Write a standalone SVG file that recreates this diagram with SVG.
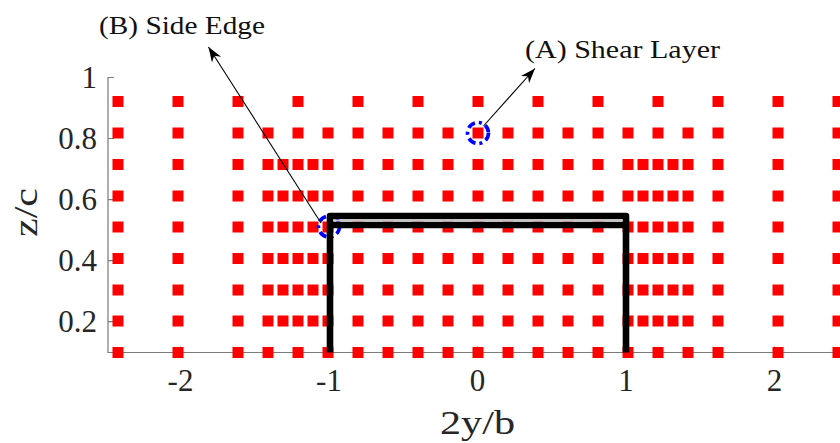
<svg xmlns="http://www.w3.org/2000/svg" xmlns:xlink="http://www.w3.org/1999/xlink" width="840" height="443" viewBox="0 0 840 443">
<style>
.tick{font-family:"Liberation Serif","Times New Roman",serif;font-size:31px;fill:#262626}
.lab{font-family:"Liberation Serif","Times New Roman",serif;font-size:33px;fill:#262626}
.ann{font-family:"Liberation Serif","Times New Roman",serif;font-size:26px;fill:#111}
.ax{stroke:#7a7a7a;stroke-width:1.2;fill:none}
.sq{fill:#ff0000}
.ring{fill:none;stroke:#0000ff;stroke-width:3.6;stroke-dasharray:8 4 3 4}
.conn{stroke:#000;stroke-width:1.1;fill:none}
</style>
<defs>
<rect id="sq" class="sq" x="-5.5" y="-5.5" width="11" height="11"/>
<g id="rowA">
<use href="#sq" x="118"/><use href="#sq" x="178"/><use href="#sq" x="238"/><use href="#sq" x="298"/><use href="#sq" x="358"/><use href="#sq" x="418"/><use href="#sq" x="478"/><use href="#sq" x="538"/><use href="#sq" x="598"/><use href="#sq" x="658"/><use href="#sq" x="718"/><use href="#sq" x="778"/><use href="#sq" x="838"/>
</g>
<g id="rowB">
<use href="#sq" x="118"/><use href="#sq" x="178"/><use href="#sq" x="238"/><use href="#sq" x="268"/><use href="#sq" x="298"/><use href="#sq" x="328"/><use href="#sq" x="358"/><use href="#sq" x="388"/><use href="#sq" x="418"/><use href="#sq" x="448"/><use href="#sq" x="478"/><use href="#sq" x="508"/><use href="#sq" x="538"/><use href="#sq" x="568"/><use href="#sq" x="598"/><use href="#sq" x="628"/><use href="#sq" x="658"/><use href="#sq" x="688"/><use href="#sq" x="718"/><use href="#sq" x="778"/><use href="#sq" x="838"/>
</g>
<g id="rowC">
<use href="#sq" x="118"/><use href="#sq" x="178"/><use href="#sq" x="238"/><use href="#sq" x="268"/><use href="#sq" x="283"/><use href="#sq" x="298"/><use href="#sq" x="313"/><use href="#sq" x="328"/><use href="#sq" x="358"/><use href="#sq" x="388"/><use href="#sq" x="418"/><use href="#sq" x="448"/><use href="#sq" x="478"/><use href="#sq" x="508"/><use href="#sq" x="538"/><use href="#sq" x="568"/><use href="#sq" x="598"/><use href="#sq" x="628"/><use href="#sq" x="643"/><use href="#sq" x="658"/><use href="#sq" x="673"/><use href="#sq" x="688"/><use href="#sq" x="718"/><use href="#sq" x="778"/><use href="#sq" x="838"/>
</g>
<marker id="ah" viewBox="-16 -7 17 14" refX="0" refY="0" markerWidth="17" markerHeight="14" markerUnits="userSpaceOnUse" orient="auto">
<path d="M0,0 L-15,-5.5 L-10.5,0 L-15,5.5 Z" fill="#000"/>
</marker>
</defs>
<rect x="0" y="0" width="840" height="443" fill="#fff"/>
<g id="axes">
<path class="ax" d="M108,77 V352.5 H840"/>
<path class="ax" d="M108,77.5 h6 M108,138.5 h6 M108,199.6 h6 M108,260.6 h6 M108,321.7 h6"/>
<path class="ax" d="M180.5,352.5 v-6 M329,352.5 v-6 M477.5,352.5 v-6 M626,352.5 v-6 M774.5,352.5 v-6"/>
<g class="tick" text-anchor="end">
<text x="97" y="87.5">1</text>
<text x="97" y="148.5">0.8</text>
<text x="97" y="209.6">0.6</text>
<text x="97" y="270.6">0.4</text>
<text x="97" y="331.7">0.2</text>
</g>
<g class="tick" text-anchor="middle">
<text x="180.5" y="391">-2</text>
<text x="329" y="391">-1</text>
<text x="477.5" y="391">0</text>
<text x="626" y="391">1</text>
<text x="774.5" y="391">2</text>
</g>
<text class="lab" x="477.5" y="434" text-anchor="middle" textLength="75" lengthAdjust="spacingAndGlyphs">2y/b</text>
<text class="lab" transform="translate(37,212.5) rotate(-90)" x="0" y="0" text-anchor="middle" textLength="49" lengthAdjust="spacingAndGlyphs">z/c</text>
</g>
<g id="points">
<use href="#rowA" y="101.5"/>
<use href="#rowB" y="133"/>
<use href="#rowC" y="164.5"/>
<use href="#rowC" y="196"/>
<use href="#rowC" y="227"/>
<use href="#rowC" y="258.5"/>
<use href="#rowC" y="290"/>
<use href="#rowC" y="321"/>
<use href="#rowB" y="352.5"/>
</g>
<g id="probe-A"><circle class="ring" cx="478" cy="133" r="10.5"/></g>
<g id="probe-B"><circle class="ring" cx="329" cy="226.5" r="10.5"/></g>
<g id="wing">
<path d="M330,352.5 V216 H626 V352.5" fill="none" stroke="#000" stroke-width="6.6" stroke-linejoin="round"/>
<path d="M330,225 H626" fill="none" stroke="#000" stroke-width="6.6"/>
<path d="M333.5,220.5 H622.5" fill="none" stroke="#c4c4c4" stroke-width="2"/>
</g>
<g id="connectors">
<line class="conn" x1="483.5" y1="126" x2="535" y2="68.5" marker-end="url(#ah)"/>
<line class="conn" x1="321" y1="223" x2="208.5" y2="47" marker-end="url(#ah)"/>
</g>
<g id="label-A"><text class="ann" x="525" y="57.5" textLength="195" lengthAdjust="spacingAndGlyphs">(A) Shear Layer</text></g>
<g id="label-B"><text class="ann" x="99" y="33.5" textLength="166" lengthAdjust="spacingAndGlyphs">(B) Side Edge</text></g>
</svg>
